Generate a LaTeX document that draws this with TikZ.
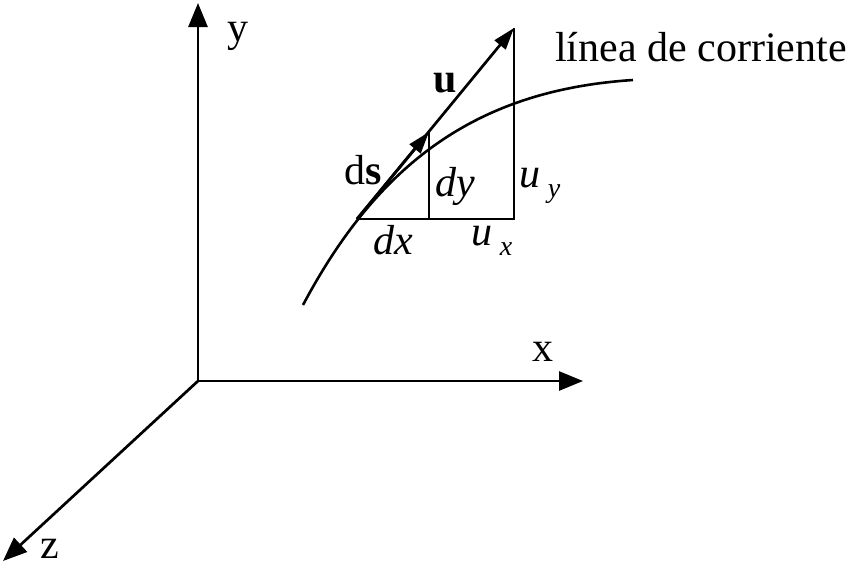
\documentclass[tikz,border=0pt]{standalone}
\usepackage{fontspec}
\setmainfont{Liberation Serif}
\usetikzlibrary{arrows.meta}
\tikzset{
  ax/.style={line width=2.7pt, -{Triangle[length=24pt,width=19pt]}},
  thin/.style={line width=2.6pt},
  vec/.style={line width=2.7pt, -{Triangle[length=22pt,width=14pt]}},
  lbl/.style={font=\fontsize{42}{50}\selectfont, inner sep=0pt}
}
\newcommand{\mysub}[1]{\,\raisebox{-0.25em}{\fontsize{28}{32}\selectfont\itshape #1}}
\begin{document}
\begin{tikzpicture}[x=1pt,y=-1pt]
\useasboundingbox (0,0) rectangle (850,570);
% axes
\coordinate (O) at (198,381);
\coordinate (Y) at (198,3);
\coordinate (X) at (583,381);
\coordinate (Z) at (3,561);
\draw[ax] (O) -- (Y);
\draw[ax] (O) -- (X);
\draw[ax] (O) -- (Z);
\node[lbl] (ly) at (238,36) {y};
\node[lbl] (lx) at (543,352) {x};
\node[lbl] (lz) at (50,549) {z};
% streamline
\coordinate (c0) at (303,305);
\coordinate (c4) at (633,80);
\draw[thin] (c0) .. controls (380,160) and (480,90) .. (c4);
\node[lbl] (lline) at (701,47) {línea de corriente};
% triangle
\coordinate (P) at (357,219);
\coordinate (Q) at (429,219);
\coordinate (R) at (514,219);
\coordinate (S) at (429,132);
\coordinate (T) at (514,28);
\draw[thin] (P) -- (R) -- (T);
\draw[thin] (Q) -- (S);
\draw[vec] (P) -- (T);
\draw[vec] (P) -- (S);
% labels
\node[lbl] (lu) at (445,83) {\textbf{u}};
\node[lbl] (lds) at (363,170) {d\textbf{s}};
\node[lbl] (ldy) at (455,186) {\textit{dy}};
\node[lbl] (luy) at (540,186) {\textit{u}\mysub{y}};
\node[lbl] (ldx) at (393,240) {\textit{dx}};
\node[lbl] (lux) at (492,241) {\textit{u}\mysub{x}};
\end{tikzpicture}
\end{document}
